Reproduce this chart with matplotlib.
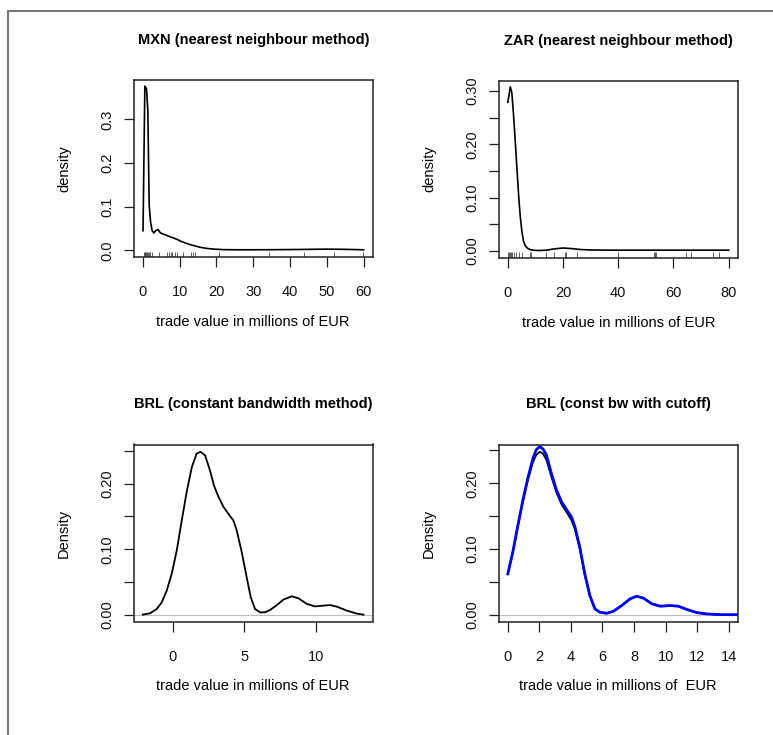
import matplotlib
matplotlib.use("Agg")
import matplotlib.pyplot as plt
from matplotlib.lines import Line2D
import matplotlib.transforms as mtransforms

plt.rcParams["font.family"] = ["Liberation Sans", "DejaVu Sans"]

W, H = 773, 735
DPI = 100

# ---- MXN: nearest neighbour density estimate + observed trade values ----
mxn_x = [0.05, 0.55, 1.0, 1.36, 1.55, 1.73, 2.1, 2.54, 3.0, 3.45, 4.1, 4.8,
         5.7, 6.6, 7.5, 8.5, 9.4, 10.3, 11.6, 13.0, 14.3, 15.7, 17.5, 19.4,
         22, 26, 30, 35, 40, 45, 50, 55, 60]
mxn_y = [0.045, 0.376, 0.370, 0.32, 0.204, 0.103, 0.065, 0.045, 0.040, 0.045,
         0.048, 0.040, 0.037, 0.034, 0.031, 0.028, 0.025, 0.021, 0.017, 0.013,
         0.010, 0.007, 0.0045, 0.003, 0.0018, 0.0015, 0.0015, 0.0017, 0.002,
         0.0025, 0.003, 0.0025, 0.0015]
mxn_obs = [0.27, 0.5, 0.7, 0.9, 1.1, 1.36, 1.6, 2.0, 2.4, 4.3, 6.5, 7.1, 7.6,
           8.0, 8.7, 9.4, 10.8, 13.2, 13.6, 14.1, 20.7, 34.2, 43.9, 51.9, 59.9]

# ---- ZAR: nearest neighbour density estimate + observed trade values ----
zar_x = [0, 0.9, 1.45, 2.07, 2.7, 3.3, 3.9, 4.5, 5.1, 5.7, 6.3, 6.8, 7.2, 7.7,
         8.1, 9.5, 11.2, 14, 17, 20, 23, 26, 30, 40, 50, 60, 70, 80]
zar_y = [0.279, 0.308, 0.297, 0.255, 0.205, 0.155, 0.105, 0.065, 0.036, 0.018,
         0.010, 0.0068, 0.005, 0.0035, 0.0025, 0.0012, 0.0008, 0.0015, 0.004,
         0.0055, 0.0045, 0.0028, 0.0018, 0.0015, 0.0015, 0.0015, 0.0015, 0.0015]
zar_obs = [0.0, 0.4, 0.7, 1.1, 1.5, 2.2, 3.0, 4.1, 5.2, 8.1, 8.5, 14.0, 16.6,
           20.6, 21.2, 24.9, 39.8, 52.9, 53.2, 53.6, 64.6, 66.5, 74.2, 76.5]

# ---- BRL: constant bandwidth kernel density ----
brl_x = [-2.09, -1.58, -1.12, -0.77, -0.42, -0.07, 0.28, 0.63, 0.97, 1.33,
         1.67, 1.95, 2.26, 2.6, 2.88, 3.19, 3.53, 3.88, 4.23, 4.46, 4.81, 5.16,
         5.44, 5.74, 6.09, 6.44, 6.79, 7.26, 7.72, 8.3, 8.77, 9.35, 9.93,
         10.51, 10.98, 11.44, 12.14, 12.84, 13.3]
brl_y = [0.0005, 0.0025, 0.009, 0.019, 0.037, 0.0626, 0.098, 0.144, 0.187,
         0.225, 0.246, 0.2485, 0.243, 0.22, 0.197, 0.18, 0.165, 0.154, 0.144,
         0.129, 0.096, 0.057, 0.027, 0.009, 0.004, 0.004, 0.0076, 0.015,
         0.0234, 0.0284, 0.0253, 0.0168, 0.013, 0.0142, 0.015, 0.0127, 0.0066,
         0.002, 0.0005]

# ---- BRL: constant bandwidth, cut off at zero (black) and corrected (blue) ----
cut_x = [0.0, 0.32, 0.64, 0.95, 1.27, 1.59, 1.8, 2.02, 2.23, 2.44, 2.76, 3.08,
         3.4, 3.72, 4.03, 4.25, 4.56, 4.88, 5.2, 5.52, 5.84, 6.26, 6.69, 7.22,
         7.75, 8.17, 8.6, 9.13, 9.66, 10.29, 10.82, 11.36, 11.99, 12.63, 13.3]
cut_y = [0.062, 0.095, 0.135, 0.172, 0.205, 0.232, 0.243, 0.248, 0.245,
         0.236, 0.21, 0.186, 0.168, 0.156, 0.144, 0.13, 0.1, 0.06, 0.029,
         0.0087, 0.0036, 0.002, 0.005, 0.0138, 0.024, 0.028, 0.025, 0.0164,
         0.0128, 0.0138, 0.0128, 0.0077, 0.003, 0.001, 0.0]
cutb_x = [0.0, 0.32, 0.64, 0.95, 1.27, 1.59, 1.8, 2.02, 2.23, 2.44, 2.76, 3.08,
          3.4, 3.72, 4.03, 4.25, 4.56, 4.88, 5.2, 5.52, 5.84, 6.26, 6.69, 7.22,
          7.75, 8.17, 8.6, 9.13, 9.66, 10.29, 10.82, 11.36, 11.99, 12.63, 13.48,
          14.6]
cutb_y = [0.062, 0.096, 0.136, 0.174, 0.208, 0.238, 0.251, 0.256, 0.252,
          0.2435, 0.215, 0.19, 0.172, 0.16, 0.149, 0.134, 0.103, 0.062, 0.029,
          0.0087, 0.0036, 0.002, 0.005, 0.0138, 0.024, 0.028, 0.025, 0.0164,
          0.0128, 0.0138, 0.0128, 0.0077, 0.003, 0.001, 0.0, 0.0]

TITLE_FS = 10.5
FS = 10.5


def make_axes(fig, left, top, width=238.5, height=177):
    return fig.add_axes([left / W, 1 - (top + height) / H, width / W, height / H])


def style(ax, title, ylabel, xlabel, xlim, ylim, xticks, yticks, ylabels):
    ax.set_xlim(*xlim)
    ax.set_ylim(*ylim)
    ax.set_xticks(xticks)
    ax.set_xticklabels([f"{t:g}" for t in xticks])
    ax.set_yticks(yticks)
    ax.set_yticklabels(ylabels)
    for s in ax.spines.values():
        s.set_linewidth(1.1)
        s.set_color("#222222")
    ax.tick_params(direction="out", length=7, width=0.9, color="#222222",
                   labelsize=FS, labelcolor="#111111")
    ax.tick_params(axis="x", pad=13.5)
    ax.tick_params(axis="y", pad=7)
    for lab in ax.get_yticklabels():
        lab.set_rotation(90)
        lab.set_va("center")
        lab.set_ha("right")
    t = ax.set_title(title, fontsize=TITLE_FS, fontweight="bold",
                     y=1 + 40 / 177, pad=0)
    t.set_va("center")
    ax.set_ylabel(ylabel, fontsize=FS)
    ax.yaxis.label.set_va("center")
    ax.yaxis.set_label_coords(-70 / 238.5, 0.5)
    ax.set_xlabel(xlabel, fontsize=FS)
    ax.xaxis.label.set_va("center")
    ax.xaxis.set_label_coords(0.5, -65 / 177)


def rug(ax, values):
    trans = mtransforms.blended_transform_factory(ax.transData, ax.transAxes)
    ax.vlines(values, 0, 0.03, transform=trans, color="#333333", lw=0.55)


fig = plt.figure(figsize=(W / DPI, H / DPI), dpi=DPI)

# MXN
ax1 = make_axes(fig, 134, 80)
ax1.plot(mxn_x, mxn_y, color="black", lw=1.2)
rug(ax1, mxn_obs)
style(ax1, "MXN (nearest neighbour method)", "density",
      "trade value in millions of EUR", (-2.4, 62.4), (-0.015, 0.39),
      [0, 10, 20, 30, 40, 50, 60], [0.0, 0.1, 0.2, 0.3],
      ["0.0", "0.1", "0.2", "0.3"])

# ZAR
ax2 = make_axes(fig, 499, 80.5)
ax2.plot(zar_x, zar_y, color="black", lw=1.2)
rug(ax2, zar_obs)
style(ax2, "ZAR (nearest neighbour method)", "density",
      "trade value in millions of EUR", (-3.2, 83.2), (-0.0123, 0.320),
      [0, 20, 40, 60, 80], [0.0, 0.05, 0.10, 0.15, 0.20, 0.25, 0.30],
      ["0.00", "", "0.10", "", "0.20", "", "0.30"])

# BRL constant bandwidth
ax3 = make_axes(fig, 134, 444.5)
ax3.axhline(0, color="#bebebe", lw=0.8)
ax3.plot(brl_x, brl_y, color="black", lw=1.3)
style(ax3, "BRL (constant bandwidth method)", "Density",
      "trade value in millions of EUR", (-2.7, 13.93), (-0.01, 0.2597),
      [0, 5, 10], [0.0, 0.05, 0.10, 0.15, 0.20, 0.25],
      ["0.00", "", "0.10", "", "0.20", ""])

# BRL constant bandwidth with cutoff
ax4 = make_axes(fig, 499, 444.5)
ax4.axhline(0, color="#bebebe", lw=0.8)
ax4.plot(cut_x, cut_y, color="black", lw=1.3)
ax4.plot(cutb_x, cutb_y, color="#0000ff", lw=2.0)
style(ax4, "BRL (const bw with cutoff)", "Density",
      "trade value in millions of  EUR", (-0.56, 14.56), (-0.0105, 0.2590),
      [0, 2, 4, 6, 8, 10, 12, 14], [0.0, 0.05, 0.10, 0.15, 0.20, 0.25],
      ["0.00", "", "0.10", "", "0.20", ""])

# frame lines along the left and top of the page
fig.add_artist(Line2D([8 / W, 8 / W], [0, 1 - 11 / H], transform=fig.transFigure,
                      color="#777777", lw=1.5))
fig.add_artist(Line2D([8 / W, 1], [1 - 11 / H, 1 - 11 / H], transform=fig.transFigure,
                      color="#777777", lw=1.5))

fig.savefig("out.png", dpi=DPI)
